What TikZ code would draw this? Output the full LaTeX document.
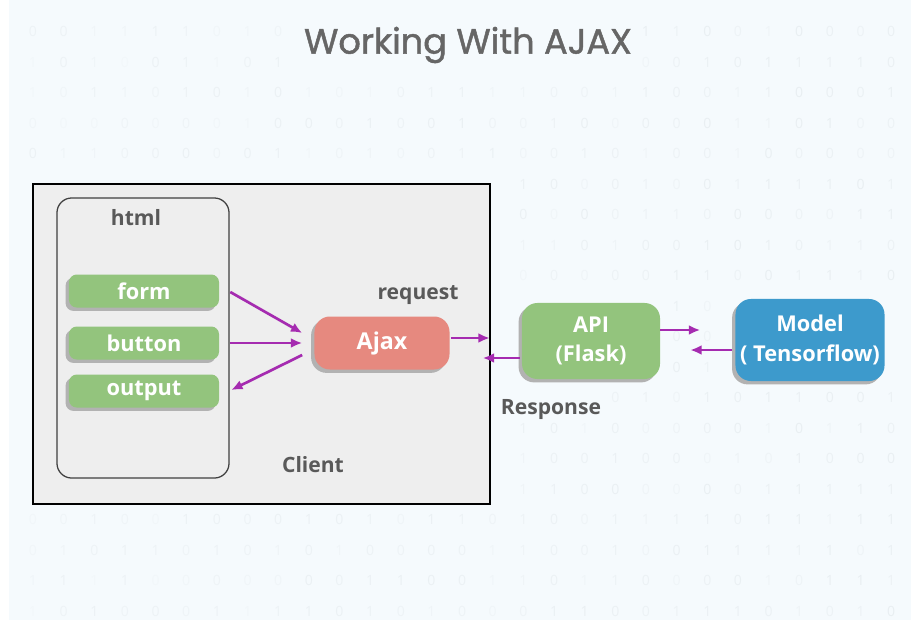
\documentclass[tikz,border=0pt]{standalone}
\usepackage{fontspec}
\setmainfont{Open Sans}
\newfontfamily\titlefont{Poppins}[FakeBold=1.3]
\usetikzlibrary{shadows,arrows.meta}

\definecolor{bgblue}{HTML}{F5FAFD}
\definecolor{clientgray}{HTML}{EEEEEE}
\definecolor{leafgreen}{HTML}{93C47D}
\definecolor{ajaxred}{HTML}{E6897F}
\definecolor{modelblue}{HTML}{3D9ACC}
\definecolor{flowpurple}{HTML}{A52BB0}
\definecolor{labelgray}{HTML}{595959}
\definecolor{titlegray}{HTML}{666666}
\definecolor{digitgray}{HTML}{A9B3B8}

\tikzset{
  boxshadow/.style={general shadow={shadow xshift=-2.4pt,shadow yshift=-2.4pt,fill=black!30}},
  elem/.style={boxshadow,fill=leafgreen,text=white,rounded corners=5.5pt,inner sep=0pt,
    minimum width=3.75cm,minimum height=0.825cm,font=\bfseries\fontsize{15.5}{17}\selectfont},
  block/.style={boxshadow,text=white,rounded corners=11pt,inner sep=0pt,align=center,
    font=\bfseries\fontsize{15.5}{21}\selectfont},
  lbl/.style={text=labelgray,font=\bfseries\fontsize{15}{17}\selectfont},
  flow/.style={draw=flowpurple,line width=1.9pt,-{Latex[length=8pt,width=7pt]}},
}

\begin{document}
\begin{tikzpicture}[x=0.025cm,y=-0.025cm]
\useasboundingbox (0,0) rectangle (920,620);
\fill[white] (0,0) rectangle (920,620);
\fill[bgblue] (9,0) rectangle (911,620);
% binary background (left out where boxes and labels cover it)
\pgfmathsetseed{4}
\foreach \r in {1,...,20}{
  \foreach \c in {0,...,28}{
    \pgfmathrandominteger{\bit}{0}{1}
    \pgfmathsetmacro{\op}{0.03+0.09*rnd+0.05*\c/28}
    \pgfmathsetmacro{\dx}{33+30.65*\c}
    \pgfmathsetmacro{\dy}{1+30.5*\r}
    \pgfmathtruncatemacro{\hide}{((\dx>22)&&(\dx<500)&&(\dy>174)&&(\dy<514))
      ||((\dx>290)&&(\dx<645)&&(\dy>22)&&(\dy<68))
      ||((\dx>512)&&(\dx<670)&&(\dy>294)&&(\dy<388))
      ||((\dx>725)&&(\dx<893)&&(\dy>290)&&(\dy<390))
      ||((\dx>492)&&(\dx<610)&&(\dy>396)&&(\dy<422))}
    \ifnum\hide=0
      \node[text=digitgray,opacity=\op,font=\fontsize{10}{10}\selectfont,inner sep=0pt]
        at (\dx,\dy) {\bit};
    \fi
  }
}

\node[text=titlegray,font=\titlefont\fontsize{25}{28}\selectfont] (title) at (468,45) {Working With AJAX};

% client side
\node[draw=black,line width=1.4pt,fill=clientgray,minimum width=11.425cm,minimum height=8cm] (client) at (261.5,344) {};
\node[draw=black!75,line width=0.9pt,rounded corners=10.5pt,minimum width=4.3cm,minimum height=7cm] (html) at (143,338) {};
\node[lbl] (htmllbl) at (136,218) {html};
\node[elem] (form) at (144,291) {form};
\node[elem] (button) at (144,343) {button};
\node[elem] (output) at (144,391) {output};
\node[block,fill=ajaxred,minimum width=3.375cm,minimum height=1.325cm,font=\bfseries\fontsize{16.5}{19}\selectfont] (ajax) at (382,343) {Ajax};
\node[lbl] (request) at (418,295) {request};
\node[lbl] (clientlbl) at (313,465) {Client};

% server side
\node[block,fill=leafgreen,minimum width=3.45cm,minimum height=1.9cm] (api) at (591,341) {API\\(Flask)};
\node[block,fill=modelblue,minimum width=3.725cm,minimum height=2.05cm] (model) at (810,340) {Model\\( Tensorflow)};
\node[lbl] (response) at (551,409) {Response};

% connectors
\draw[flow] ([shift={(11,1)}]form.east) -- ([shift={(-12,-10)}]ajax.west);
\draw[flow] ([shift={(11,0)}]button.east) -- ([shift={(-12,0)}]ajax.west);
\draw[flow] ([shift={(-12,12)}]ajax.west) -- ([shift={(12,-1)}]output.east);
\draw[flow] ([shift={(1,-5)}]ajax.east) -- ([shift={(-32,-3)}]api.west);
\draw[flow] ([shift={(-2,17)}]api.west) -- ([shift={(33,15)}]ajax.east);
\draw[flow] ([shift={(0,-11)}]api.east) -- ([shift={(-35,-10)}]model.west);
\draw[flow] ([shift={(-3,10)}]model.west) -- ([shift={(30,9)}]api.east);
\end{tikzpicture}
\end{document}
